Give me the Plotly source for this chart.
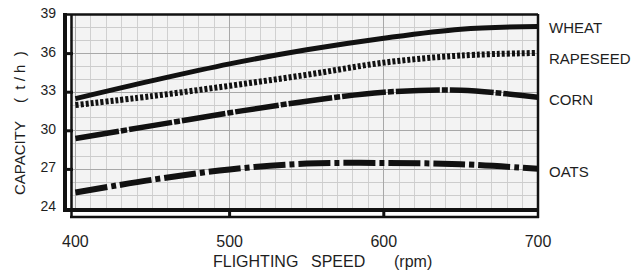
import plotly.graph_objects as go

rpm = [400, 450, 500, 550, 600, 650, 700]
wheat = [32.5, 33.9, 35.2, 36.3, 37.2, 37.9, 38.1]
rapeseed = [32.0, 32.7, 33.5, 34.35, 35.3, 35.85, 36.05]
corn = [29.4, 30.4, 31.4, 32.3, 33.0, 33.15, 32.6]
oats = [25.2, 26.2, 27.0, 27.45, 27.5, 27.4, 27.05]

x_ticks = [400, 500, 600, 700]
y_ticks = [24, 27, 30, 33, 36, 39]
series_names = ["WHEAT", "RAPESEED", "CORN", "OATS"]
label_y = [38.0, 35.6, 32.45, 26.8]

FONT = "Liberation Sans, Arial, sans-serif"
INK = "#111111"
TXT = "#1e1e1e"
NB = "\u00a0"

OFF = 8  # default page body margin
W, H = 640, 270
PW, PH = 468, 193
ML, MT = 70 - OFF, 15 - OFF
MR, MB = W - ML - PW, H - MT - PH


def px(xs):
    return (xs - OFF - ML) / PW


def py(ys):
    return (H - MB - (ys - OFF)) / PH


fig = go.Figure()
styles = [
    dict(width=5, dash="solid"),
    dict(width=6, dash="3px,2px"),
    dict(width=5.5, dash="44px,2px,6px,2px"),
    dict(width=6, dash="32px,4px,5px,4px"),
]
for name, ys, st in zip(series_names, [wheat, rapeseed, corn, oats], styles):
    fig.add_trace(go.Scatter(
        x=rpm, y=ys, mode="lines", name=name,
        line=dict(color=INK, width=st["width"], dash=st["dash"], shape="spline", smoothing=1.0),
        showlegend=False,
    ))

for name, yv in zip(series_names, label_y):
    fig.add_annotation(x=700, y=yv, xref="x", yref="y", text=name, showarrow=False,
                       xanchor="left", yanchor="middle", xshift=9,
                       font=dict(family=FONT, size=15, color=TXT))

# x axis title, words spaced as in the original
for word, cx in [("FLIGHTING", 255), ("SPEED", 338), ("(rpm)", 413)]:
    fig.add_annotation(x=px(cx), y=py(261), xref="paper", yref="paper",
                       text=word, showarrow=False, xanchor="center", yanchor="middle",
                       font=dict(family=FONT, size=16, color=TXT))
# y axis title
yt2 = "(" + NB * 2 + "t" + NB + "/" + NB + "h" + NB * 2 + ")"
for word, cy in [("CAPACITY", 158), (yt2, 77)]:
    fig.add_annotation(x=px(19), y=py(cy), xref="paper", yref="paper",
                       text=word, showarrow=False, textangle=-90,
                       xanchor="center", yanchor="middle",
                       font=dict(family=FONT, size=15, color=TXT))

shapes = []
shapes.append(dict(type="line", xref="paper", yref="paper", x0=px(63), x1=px(538), y0=py(14.5), y1=py(14.5),
                   line=dict(color=INK, width=2.5)))
shapes.append(dict(type="line", xref="paper", yref="paper", x0=px(538), x1=px(538), y0=py(14), y1=py(218),
                   line=dict(color=INK, width=2.5)))
shapes.append(dict(type="line", xref="paper", yref="paper", x0=px(65), x1=px(65), y0=py(13), y1=py(211),
                   line=dict(color=INK, width=4)))
shapes.append(dict(type="line", xref="paper", yref="paper", x0=px(71.5), x1=px(71.5), y0=py(15), y1=py(218),
                   line=dict(color=INK, width=2.5)))
shapes.append(dict(type="line", xref="paper", yref="paper", x0=px(63), x1=px(538), y0=py(210), y1=py(210),
                   line=dict(color=INK, width=4)))
shapes.append(dict(type="line", xref="paper", yref="paper", x0=px(70), x1=px(539), y0=py(217), y1=py(217),
                   line=dict(color=INK, width=2.5)))
for xv in x_ticks[1:-1]:
    shapes.append(dict(type="line", xref="x", yref="paper", x0=xv, x1=xv, y0=py(210), y1=py(217),
                       line=dict(color=INK, width=3)))
for yv in y_ticks[1:-1]:
    shapes.append(dict(type="line", xref="paper", yref="y", x0=px(63), x1=px(73), y0=yv, y1=yv,
                       line=dict(color=INK, width=3)))
fig.update_layout(shapes=shapes)

fig.update_layout(
    width=W, height=H,
    margin=dict(l=ML, r=MR, t=MT, b=MB, pad=0, autoexpand=False),
    paper_bgcolor="white",
    plot_bgcolor="#f3f3f3",
    xaxis=dict(range=[396.5, 700], tickvals=x_ticks, ticks="", showline=False, zeroline=False,
               automargin=False, ticklabeloverflow="allow",
               showgrid=True, gridcolor="#a8a8a8", gridwidth=1, dtick=50, tick0=400,
               minor=dict(dtick=10, showgrid=True, gridcolor="#d0d0d0", gridwidth=1),
               ticklabelstandoff=22,
               tickfont=dict(family=FONT, size=16, color=TXT)),
    yaxis=dict(range=[24, 39], tickvals=y_ticks, ticks="", showline=False, zeroline=False,
               automargin=False, ticklabeloverflow="allow",
               showgrid=True, gridcolor="#a8a8a8", gridwidth=1,
               minor=dict(dtick=1, showgrid=True, gridcolor="#cccccc", gridwidth=1),
               ticklabelstandoff=13, ticklabelshift=-2,
               tickfont=dict(family=FONT, size=14, color=TXT)),
)

fig.write_html("out.html")
